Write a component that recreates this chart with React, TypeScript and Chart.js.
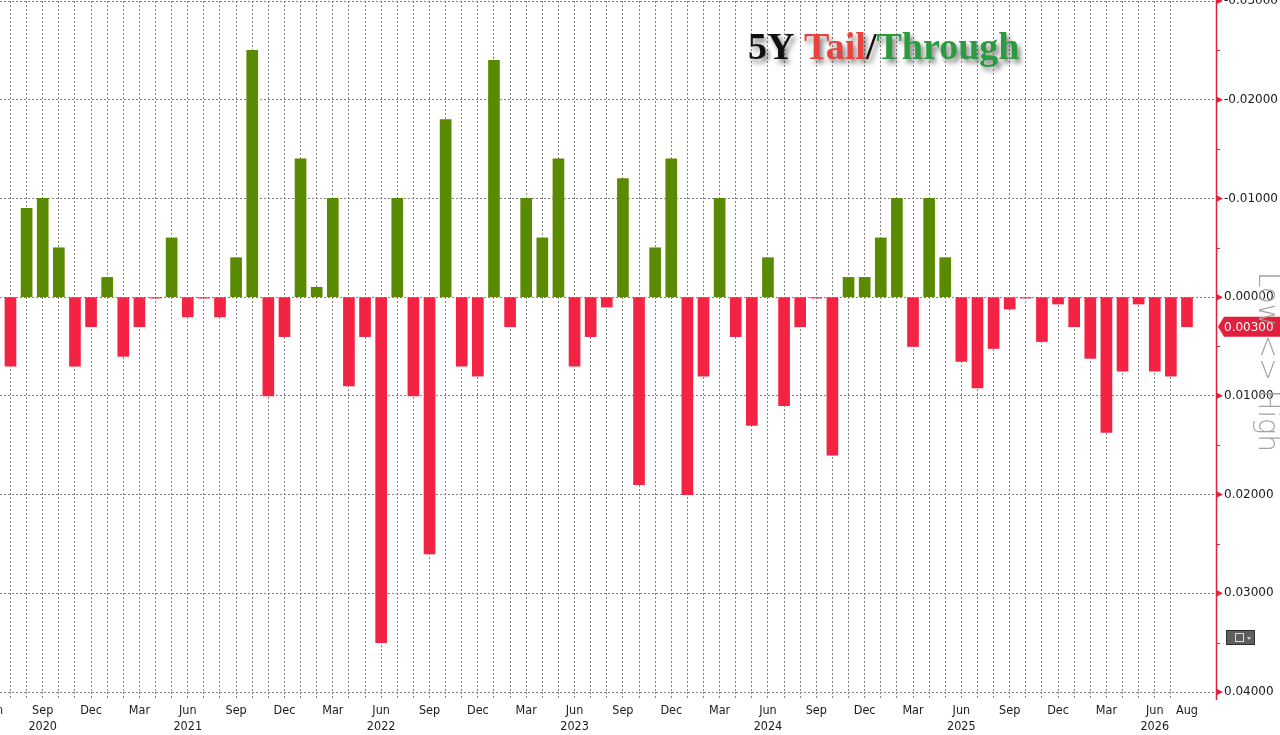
import React, { useEffect, useRef } from "react";
import { Chart, registerables } from "chart.js";

Chart.register(...registerables);

// ---- data ----
// month offset 0 = Jun 2020 (axis tick left of the first bar); bars start at offset 1 (Jul 2020)
const START_YEAR = 2020;
const START_MONTH = 5; // June (0-based)
const MONTH_NAMES = ["Jan", "Feb", "Mar", "Apr", "May", "Jun", "Jul", "Aug", "Sep", "Oct", "Nov", "Dec"];

// 5Y auction tail (+) / through (-), monthly, Jul 2020 .. Aug 2026
const tailThrough = [
  0.007, -0.009, -0.010, -0.005, 0.007, 0.003, -0.002, 0.006, 0.003, 0.0001,
  -0.006, 0.002, 0.0001, 0.002, -0.004, -0.025, 0.010, 0.004, -0.014, -0.001,
  -0.010, 0.009, 0.004, 0.035, -0.010, 0.010, 0.026, -0.018, 0.007, 0.008,
  -0.024, 0.003, -0.010, -0.006, -0.014, 0.007, 0.004, 0.001, -0.012, 0.019,
  -0.005, -0.014, 0.020, 0.008, -0.010, 0.004, 0.013, -0.004, 0.011, 0.003,
  0.0001, 0.016, -0.002, -0.002, -0.006, -0.010, 0.005, -0.010, -0.004, 0.0065,
  0.0092, 0.0052, 0.0012, 0.0001, 0.0045, 0.0007, 0.003, 0.0062, 0.0137, 0.0075,
  0.0007, 0.0075, 0.008, 0.003,
];
const barOffsets = tailThrough.map((_, i) => i + 1);

const yMajorTicks = [-0.03, -0.02, -0.01, 0, 0.01, 0.02, 0.03, 0.04];
const yMinorTicks = [-0.025, -0.015, -0.005, 0.005, 0.015, 0.025, 0.035];
const quarterMonths = ["Mar", "Jun", "Sep", "Dec"];
const yearLabelAt = ["Sep 2020", "Jun 2021", "Jun 2022", "Jun 2023", "Jun 2024", "Jun 2025", "Jun 2026"];

const TITLE_PARTS: [string, string][] = [
  ["5Y ", "#111111"],
  ["Tail", "#e8433f"],
  ["/", "#111111"],
  ["Through", "#2c9a3f"],
];

const RED = "#f42343";
const GREEN = "#5a8a00";
const AXIS_RED = "#e0203c";
const GRID = "#858585";

function monthInfo(offset: number) {
  const t = START_MONTH + offset;
  return { name: MONTH_NAMES[((t % 12) + 12) % 12], year: START_YEAR + Math.floor(t / 12) };
}

const lastOffset = barOffsets[barOffsets.length - 1];

const decorPlugin = {
  id: "decor",
  afterDraw(chart: any) {
    const ctx: CanvasRenderingContext2D = chart.ctx;
    const y = chart.scales.y;
    const area = chart.chartArea;
    const ax = area.right;
    ctx.save();
    // axis line
    ctx.strokeStyle = AXIS_RED;
    ctx.lineWidth = 1.5;
    ctx.beginPath();
    ctx.moveTo(ax + 0.5, 0);
    ctx.lineTo(ax + 0.5, area.bottom + 8);
    ctx.stroke();
    // major tick triangles
    ctx.fillStyle = AXIS_RED;
    for (const v of yMajorTicks) {
      const py = y.getPixelForValue(v);
      ctx.beginPath();
      ctx.moveTo(ax, py - 3.5);
      ctx.lineTo(ax + 7, py);
      ctx.lineTo(ax, py + 3.5);
      ctx.closePath();
      ctx.fill();
    }
    // minor ticks
    ctx.lineWidth = 1;
    for (const v of yMinorTicks) {
      const py = Math.round(y.getPixelForValue(v)) + 0.5;
      ctx.beginPath();
      ctx.moveTo(ax, py);
      ctx.lineTo(ax + 4, py);
      ctx.stroke();
    }
    // last value tag
    const last = tailThrough[tailThrough.length - 1];
    const ty = y.getPixelForValue(last);
    ctx.fillStyle = AXIS_RED;
    ctx.beginPath();
    ctx.moveTo(ax + 2, ty);
    ctx.lineTo(ax + 8, ty - 10);
    ctx.lineTo(chart.width, ty - 10);
    ctx.lineTo(chart.width, ty + 10);
    ctx.lineTo(ax + 8, ty + 10);
    ctx.closePath();
    ctx.fill();
    ctx.fillStyle = "#ffffff";
    ctx.font = "12px 'DejaVu Sans'";
    ctx.textAlign = "left";
    ctx.textBaseline = "middle";
    ctx.fillText(last.toFixed(5), ax + 8, ty + 1);

    // rotated side label
    ctx.save();
    ctx.translate(chart.width - 14, 272);
    ctx.rotate(Math.PI / 2);
    ctx.font = "200 27.5px 'DejaVu Sans'";
    ctx.fillStyle = "#a3a3a3";
    ctx.textAlign = "left";
    ctx.textBaseline = "middle";
    ctx.fillText("Low <> High", 0, 0);
    ctx.restore();

    // small icon
    ctx.fillStyle = "#5e5e5e";
    ctx.fillRect(ax + 10, 630, 29, 15);
    ctx.strokeStyle = "#2e2e2e";
    ctx.strokeRect(ax + 10.5, 630.5, 28, 14);
    ctx.strokeStyle = "#dddddd";
    ctx.strokeRect(ax + 19.5, 633.5, 8, 8);
    ctx.fillStyle = "#cfcfcf";
    ctx.beginPath();
    ctx.moveTo(ax + 31, 637);
    ctx.lineTo(ax + 35, 637);
    ctx.lineTo(ax + 33, 640);
    ctx.closePath();
    ctx.fill();

    // title
    ctx.font = "bold 38px 'Liberation Serif'";
    ctx.textBaseline = "alphabetic";
    ctx.textAlign = "left";
    ctx.shadowColor = "rgba(0,0,0,0.5)";
    ctx.shadowOffsetX = 3;
    ctx.shadowOffsetY = 4;
    ctx.shadowBlur = 5;
    let tx = 748;
    for (const [txt, col] of TITLE_PARTS) {
      ctx.fillStyle = col;
      ctx.fillText(txt, tx, 59);
      tx += ctx.measureText(txt).width;
    }
    ctx.restore();
  },
};

export default function App() {
  const ref = useRef<HTMLCanvasElement | null>(null);

  useEffect(() => {
    if (!ref.current) return;
    const chart = new Chart(ref.current, {
      type: "bar",
      data: {
        datasets: [
          {
            data: barOffsets.map((x, i) => ({ x, y: tailThrough[i] })),
            backgroundColor: tailThrough.map((v) => (v > 0 ? RED : GREEN)),
            borderWidth: 0,
            barThickness: 11,
          },
        ],
      },
      options: {
        animation: false,
        responsive: true,
        maintainAspectRatio: false,
        layout: { padding: { top: 1, left: 0, right: 0, bottom: 0 } },
        plugins: { legend: { display: false }, tooltip: { enabled: false } },
        scales: {
          x: {
            type: "linear",
            position: "bottom",
            min: 0.35,
            max: 75.8,
            offset: false,
            grid: {
              offset: false,
              color: (c: any) => (c.tick && c.tick.value >= 1 && c.tick.value < lastOffset ? GRID : "rgba(0,0,0,0)"),
              lineWidth: 1,
              drawTicks: true,
              tickLength: 6,
              tickColor: (c: any) => (c.tick && c.tick.value >= 1 && c.tick.value < lastOffset ? GRID : "rgba(0,0,0,0)"),
              tickBorderDash: [2, 2],
              borderDash: [2, 2],
            } as any,
            border: { display: false, dash: [2, 2] },
            afterBuildTicks: (axis: any) => {
              const t = [];
              for (let m = 0; m <= lastOffset; m++) t.push({ value: m });
              axis.ticks = t;
            },
            afterFit: (axis: any) => {
              axis.height = 43;
              axis.paddingLeft = 0;
              axis.paddingRight = 0;
            },
            ticks: {
              autoSkip: false,
              maxRotation: 0,
              minRotation: 0,
              padding: 5,
              color: "#1a1a1a",
              font: { family: "'DejaVu Sans Condensed', 'Liberation Sans Narrow', 'DejaVu Sans'", size: 12.5, lineHeight: 1.25 },
              callback: (value: any) => {
                const m = Math.round(Number(value));
                const { name, year } = monthInfo(m);
                if (m === lastOffset) return name;
                if (!quarterMonths.includes(name)) return "";
                const key = name + " " + year;
                return yearLabelAt.includes(key) ? [name, String(year)] : name;
              },
            },
          },
          y: {
            type: "linear",
            position: "right",
            reverse: true,
            min: -0.03,
            max: 0.04,
            grid: {
              color: GRID,
              lineWidth: 1,
              drawTicks: false,
              borderDash: [2, 2],
            } as any,
            border: { display: false, dash: [2, 2] },
            afterBuildTicks: (axis: any) => {
              axis.ticks = yMajorTicks.map((v) => ({ value: v }));
            },
            afterFit: (axis: any) => {
              axis.width = 64;
              axis.paddingTop = 0;
              axis.paddingBottom = 0;
            },
            ticks: {
              padding: 8,
              color: "#1a1a1a",
              font: { family: "'DejaVu Sans'", size: 12 },
              callback: (value: any) => {
                const v = Number(value);
                return Math.abs(v) < 1e-9 ? "0.00000" : v.toFixed(5);
              },
            },
          },
        },
      },
      plugins: [decorPlugin],
    } as any);
    return () => chart.destroy();
  }, []);

  return (
    <div style={{ position: "absolute", left: 0, top: 0, width: 1280, height: 735, background: "#ffffff" }}>
      <canvas ref={ref} />
    </div>
  );
}
